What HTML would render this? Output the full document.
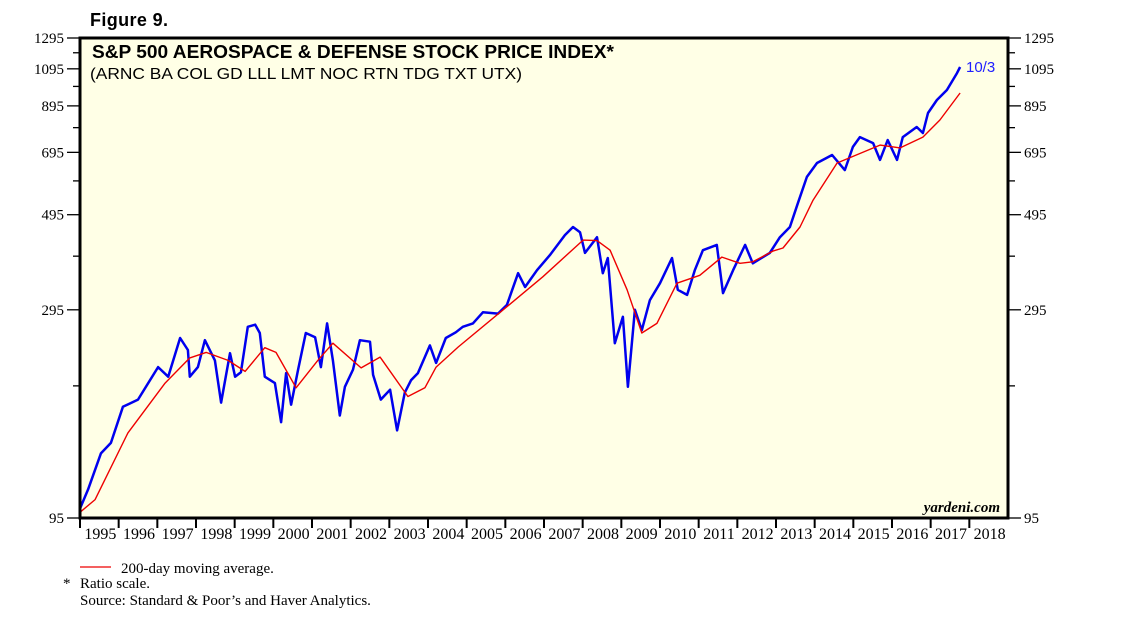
<!DOCTYPE html>
<html><head><meta charset="utf-8">
<style>
body{margin:0;background:#fff;width:1138px;height:621px;overflow:hidden;font-family:"Liberation Sans",sans-serif}
svg{position:absolute;left:0;top:0}
</style></head><body>
<svg id="c" width="1138" height="621" xmlns="http://www.w3.org/2000/svg">
<text x="90" y="26" font-family="Liberation Sans" font-weight="bold" font-size="18" textLength="78">Figure 9.</text>
<rect x="80" y="38" width="928" height="480" fill="#ffffe6"/>
<g id="marks"></g>
<rect x="80" y="38" width="928" height="480" fill="none" stroke="#000" stroke-width="3"/>
<text x="92" y="58" font-weight="bold" font-size="18" textLength="522" lengthAdjust="spacingAndGlyphs">S&amp;P 500 AEROSPACE &amp; DEFENSE STOCK PRICE INDEX*</text>
<text x="90" y="79" font-size="16" textLength="432" lengthAdjust="spacingAndGlyphs">(ARNC BA COL GD LLL LMT NOC RTN TDG TXT UTX)</text>
<text x="966" y="72" font-size="15" fill="#2020ff">10/3</text>
<text x="1000" y="512" text-anchor="end" font-family="Liberation Serif" font-style="italic" font-weight="bold" font-size="15">yardeni.com</text>
<g id="axes" font-family="Liberation Serif" font-size="15"></g>
<line x1="80" y1="567" x2="111" y2="567" stroke="#e00" stroke-width="1.3"/>
<text x="121" y="573" font-family="Liberation Serif" font-size="15">200-day moving average.</text>
<text x="63" y="588" font-family="Liberation Serif" font-size="15">*</text>
<text x="80" y="588" font-family="Liberation Serif" font-size="15">Ratio scale.</text>
<text x="80" y="605" font-family="Liberation Serif" font-size="15">Source: Standard &amp; Poor’s and Haver Analytics.</text>
</svg>
<script>
const priceDates=[0,.21,.54,.80,1.11,1.50,2.02,2.28,2.59,2.79,2.84,3.05,3.23,3.49,3.65,3.88,4.01,4.16,4.34,4.53,4.65,4.78,5.04,5.20,5.33,5.46,5.64,5.84,6.08,6.23,6.39,6.54,6.72,6.85,7.06,7.24,7.50,7.58,7.78,8.02,8.20,8.40,8.56,8.74,9.05,9.21,9.46,9.72,9.90,10.16,10.42,10.81,11.04,11.33,11.51,11.82,12.15,12.54,12.75,12.93,13.06,13.37,13.52,13.65,13.83,14.04,14.17,14.35,14.53,14.74,15.00,15.31,15.46,15.70,15.90,16.11,16.47,16.63,16.89,17.20,17.40,17.84,18.10,18.36,18.57,18.80,19.06,19.45,19.78,19.99,20.17,20.51,20.69,20.89,21.13,21.28,21.64,21.80,21.93,22.16,22.42,22.68,22.76];
const priceValues=[100,111,135,143,174,181,216,205,253,237,205,216,250,224,178,233,205,210,269,272,260,205,198,160,209,176,213,260,254,216,274,224,166,194,213,250,248,207,181,191,153,188,201,209,243,221,253,261,269,274,291,289,303,360,334,366,397,443,463,450,402,438,360,391,246,284,194,295,264,311,341,391,329,320,366,408,420,323,366,420,380,402,438,463,528,608,656,685,631,716,755,731,667,743,667,755,798,772,861,924,976,1070,1106];
const maDates=[0,.39,1.24,2.20,2.84,3.26,3.83,4.27,4.78,5.07,5.59,6.15,6.54,7.27,7.76,8.48,8.92,9.21,9.78,11.04,11.97,13.01,13.37,13.71,14.15,14.53,14.92,15.44,16.03,16.60,17.07,17.40,17.92,18.18,18.62,18.96,19.58,20.69,21.21,21.80,22.24,22.76];
const maValues=[98,105,151,198,227,234,224,211,240,234,193,224,246,215,228,184,193,216,241,300,353,431,430,408,329,260,274,341,356,393,380,383,406,413,463,536,656,723,712,755,829,960];
const yTickLabels=[95,295,495,695,895,1095,1295];
const yMinorTicks=[195,395,595,795,995,1195];
const yearLabels=[1995,1996,1997,1998,1999,2000,2001,2002,2003,2004,2005,2006,2007,2008,2009,2010,2011,2012,2013,2014,2015,2016,2017,2018];

const NS='http://www.w3.org/2000/svg';
const X0=80,X1=1008,Y0=518,Y1=38,T0=1995,T1=2019,V0=95,V1=1295;
const xs=t=>X0+(t-T0)/(T1-T0)*(X1-X0);
const xOff=d=>xs(T0+d);
const ys=v=>Y0-Math.log(v/V0)/Math.log(V1/V0)*(Y0-Y1);
function mk(tag,attrs,parent){const e=document.createElementNS(NS,tag);for(const k in attrs)e.setAttribute(k,attrs[k]);parent.appendChild(e);return e;}
const marks=document.getElementById('marks'),axes=document.getElementById('axes');
let pd=priceDates.map((d,i)=>(i?'L':'M')+xOff(d).toFixed(1)+' '+ys(priceValues[i]).toFixed(1)).join('');
const pl=mk('path',{d:pd,fill:'none',stroke:'#0000ee','stroke-width':2.5,'stroke-linejoin':'round'},marks);


let md=maDates.map((d,i)=>(i?'L':'M')+xOff(d).toFixed(1)+' '+ys(maValues[i]).toFixed(1)).join('');
const ml=mk('path',{d:md,fill:'none',stroke:'#ee0000','stroke-width':1.4,'stroke-linejoin':'round'},marks);


yTickLabels.forEach(v=>{const y=ys(v);
 const a=mk('line',{x1:67,x2:80,y1:y,y2:y,stroke:'#000','stroke-width':1.3},axes);
 
 
 const b=mk('line',{x1:1008,x2:1021,y1:y,y2:y,stroke:'#000','stroke-width':1.3},axes);
 
 
 const l=mk('text',{x:64,y:y+5,'text-anchor':'end'},axes);l.textContent=v;
 
 
 const r=mk('text',{x:1024,y:y+5},axes);r.textContent=v;
 
 
});
yMinorTicks.forEach(v=>{const y=ys(v);
 const a=mk('line',{x1:73,x2:80,y1:y,y2:y,stroke:'#000','stroke-width':1.3},axes);
 
 
 const b=mk('line',{x1:1008,x2:1015,y1:y,y2:y,stroke:'#000','stroke-width':1.3},axes);
 
 
});
yearLabels.forEach(yr=>{const x=xs(yr);
 const t=mk('line',{x1:x,x2:x,y1:518,y2:528,stroke:'#000','stroke-width':2},axes);
 
 
 const l=mk('text',{x:xs(yr+0.5)+1,y:539,'text-anchor':'middle','font-size':16},axes);l.textContent=yr;
 
 
});
</script>
</body></html>
